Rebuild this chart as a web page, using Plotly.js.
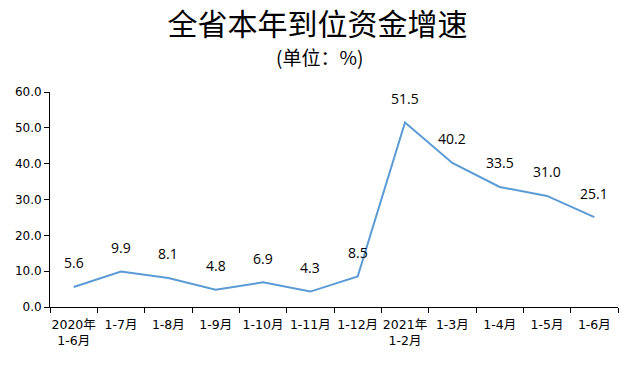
<!DOCTYPE html>
<html>
<head>
<meta charset="utf-8">
<script src="https://cdn.plot.ly/plotly-3.0.1.min.js"></script>
<style>html,body{margin:0;padding:0;background:#fff}#chart{width:644px;height:371px}</style>
</head>
<body>
<div id="chart"></div>
<script>
var categories = ["2020年<br>1-6月","1-7月","1-8月","1-9月","1-10月","1-11月","1-12月","2021年<br>1-2月","1-3月","1-4月","1-5月","1-6月"];
var growth = [5.6, 9.9, 8.1, 4.8, 6.9, 4.3, 8.5, 51.5, 40.2, 33.5, 31.0, 25.1];
var yTicks = [0, 10, 20, 30, 40, 50, 60];
var yTickText = ["0.0","10.0","20.0","30.0","40.0","50.0","60.0"];

var trace = {
  x: categories, y: growth, type: "scatter", mode: "lines",
  line: {color: "#5b9bd5", width: 2}, hoverinfo: "skip"
};

var labels = growth.map(function(v, i){
  return {x: categories[i], y: v, xref: "x", yref: "y", text: v.toFixed(1),
    showarrow: false, yshift: 24,
    font: {family: "Open Sans, Noto Sans, sans-serif", size: 14, color: "#000"}};
});
labels.push({x: 0.475, y: 1 + (92 - 56) / 215, xref: "paper", yref: "paper", yanchor: "middle", text: "(单位：%)",
  showarrow: false, font: {family: "Noto Sans CJK SC, sans-serif", size: 19, color: "#000"}});

var layout = {
  width: 644, height: 371,
  margin: {l: 50, r: 26, t: 92, b: 64},
  paper_bgcolor: "#fff", plot_bgcolor: "#fff",
  showlegend: false,
  title: {text: "全省本年到位资金增速", x: 0.493, xanchor: "center", y: 1 - 24/371, yanchor: "middle",
    font: {family: "Noto Sans CJK SC, serif", size: 30, color: "#000"}},
  xaxis: {type: "category", range: [-0.5, categories.length - 0.5], tickson: "boundaries", ticks: "outside", ticklen: 5, tickcolor: "#000",
    showline: true, linecolor: "#000", linewidth: 1, showgrid: false, zeroline: false,
    tickangle: 0, ticklabelstandoff: 6,
    tickfont: {family: "DejaVu Sans, Noto Sans CJK SC, sans-serif", size: 12.5, color: "#000"}},
  yaxis: {range: [0, 60], tickvals: yTicks, ticktext: yTickText, ticks: "outside", ticklen: 5,
    tickcolor: "#000", showline: true, linecolor: "#000", linewidth: 1, showgrid: false, zeroline: false,
    tickfont: {family: "DejaVu Sans, sans-serif", size: 12, color: "#000"}},
  annotations: labels
};
Plotly.newPlot("chart", [trace], layout, {displayModeBar: false, staticPlot: true});
</script>
</body>
</html>
